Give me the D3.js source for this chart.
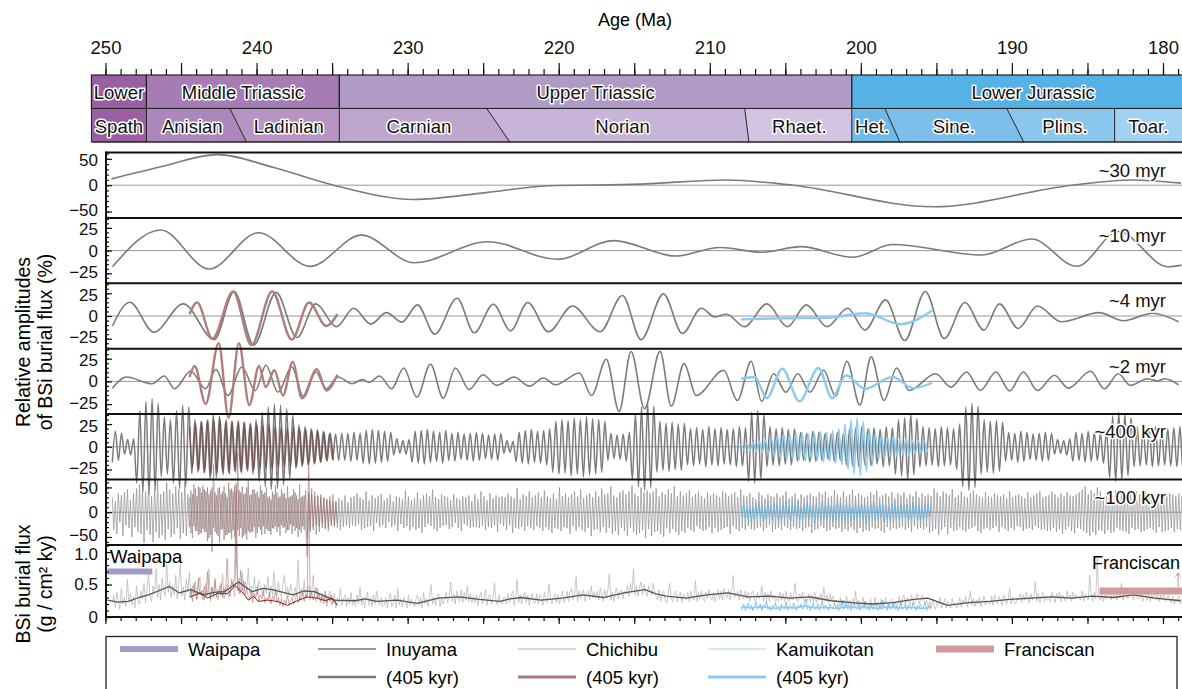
<!DOCTYPE html>
<html lang="en">
<head>
<meta charset="UTF-8">
<title>BSi burial flux cycles</title>
<script src="https://cdn.jsdelivr.net/npm/d3@7"></script>
<style>
  body { margin: 0; background: #fff; }
  svg { display: block; font-family: "Liberation Sans", Arial, sans-serif; }
  .halo { paint-order: stroke; stroke: #fff; stroke-width: 3px; stroke-linejoin: round; }
</style>
</head>
<body>
<svg id="chart" width="1182" height="689"></svg>
<script>
// ---- timescale ----
var seriesNames = ["Lower", "Middle Triassic", "Upper Triassic", "Lower Jurassic"];
var seriesBounds = [[250.93, 247.29], [247.29, 234.52], [234.52, 200.6], [200.6, 176.6]];
var stageNames = ["Spath", "Anisian", "Ladinian", "Carnian", "Norian", "Rhaet.", "Het.", "Sine.", "Plins.", "Toar."];
// stage boundaries: [age at top edge, age at bottom edge]
var stageCuts = [[250.93, 250.93], [247.29, 247.29], [241.77, 240.67], [234.52, 234.52], [224.76, 223.24],
  [207.69, 207.41], [200.6, 200.6], [198.41, 197.42], [190.34, 189.22], [183.2, 183.2], [176.6, 176.6]];

// ---- ~30 myr, ~10 myr, ~4 myr, ~2 myr filtered curves (age Ma, %) ----
var inu30 = [[249.6, 12], [246.2, 36], [242.6, 58], [238.8, 33], [234.9, 0], [229.6, -27], [224.8, -14], [220.7, -1],
  [214.6, 2], [208.9, 10], [204.5, 0], [195.2, -41], [186.0, 0], [182.1, 10], [178.8, 4]];
var inu10 = [[249.54, -17.8], [246.34, 22.7], [243.15, -20.3], [239.88, 19.7], [236.46, -17.4], [233.07, 17],
  [229.58, -13.3], [224.67, 9.7], [220.11, -9.6], [216.35, 11], [212.27, -6], [209.33, 3.4], [206.57, -1.8],
  [203.97, 4.4], [200.53, -7.4], [197.91, 6.7], [192.0, -4.8], [188.69, 12.7], [185.71, -17.3], [182.96, 21],
  [179.66, -17.8], [178.77, -16]];
var inu4 = [[249.54, -11], [248.39, 15.2], [246.8, -17.8], [244.85, 13.3], [242.8, -26], [241.48, 27], [240.19, -32],
  [238.7, 26], [237.33, -23.7], [236.08, 13.3], [234.71, -11.8], [233.57, 8.5], [232.43, -8.9], [231.4, 3.7],
  [230.38, -6.7], [229.35, 12.2], [228.21, -20], [226.73, 19.6], [225.59, -18.5], [224.33, 13], [223.19, -16.3],
  [222.05, 14.8], [220.68, -17.4], [219.09, 11], [217.26, -17.4], [215.78, 22.6], [214.55, -26], [213.07, 24.4],
  [211.81, -19.3], [210.56, 8.5], [209.66, -1], [208.87, 2], [207.71, -11.8], [206.22, 13.3], [204.86, -11.8],
  [203.61, 12.2], [202.24, -11.8], [200.87, 8.5], [199.73, -15.5], [198.36, 17.8], [197.1, -27], [195.73, 27],
  [194.48, -24.8], [193.11, 14.8], [191.86, -15.5], [190.83, 13.3], [189.58, -13.7], [188.32, 11], [186.73, -6.3],
  [184.22, 3.7], [182.62, -5.2], [180.69, 3], [178.97, -6.3]];
var chi4 = [[244.44, 2], [243.94, 15], [242.92, -25], [241.55, 27], [240.34, -32], [238.97, 27], [237.67, -26],
  [236.53, 14.8], [235.39, -11], [234.64, 2]];
var kam4 = [[207.94, -3.7], [205.1, -2.5], [202.25, -2], [199.74, 3], [197.35, -9], [195.28, 6]];
var inu2 = [[249.54, -7.4], [248.62, 4.8], [246.91, -2.6], [246.11, 5.9], [245.43, -8.1], [244.36, 11.1], [243.37, -8.1],
  [242.69, 13.3], [241.89, -15.5], [240.98, 15.9], [240.08, -10], [239.38, 17.8], [238.58, -11.9], [237.67, 15.9],
  [236.88, -17.4], [236.08, 10.4], [235.39, -8.1], [234.6, 4.8], [233.68, -2.6], [233.0, 1.9], [232.54, -1],
  [231.86, 5.9], [231.06, -8.1], [230.26, 14.8], [229.39, -17.4], [228.49, 18.9], [227.64, -18.5], [226.84, 14.8],
  [225.93, -8.9], [225.01, 7.4], [224.1, -4.4], [222.96, 4.8], [221.94, -5.2], [221.02, 3.7], [220.22, -3.7],
  [218.63, 9.3], [217.83, -15.5], [216.85, 24.4], [216.0, -33], [215.21, 33], [214.32, -30], [213.29, 33],
  [212.55, -27.4], [211.7, 19.6], [210.9, -15.5], [209.08, 12.2], [208.17, -21], [207.26, 22], [206.57, -22],
  [205.77, 8.5], [204.97, -11.9], [204.17, 8.5], [203.37, -11.9], [202.46, 12.2], [201.67, -16.3], [200.92, 22],
  [200.07, -26], [199.32, 27], [198.47, -21], [197.63, 14.8], [196.81, -10], [195.05, 8.5], [194.03, -6.3],
  [193.0, 10.4], [192.09, -10], [191.06, 10.4], [190.15, -10.4], [189.24, 10.4], [188.32, -10], [187.18, 6.7],
  [186.27, -7.4], [184.79, 11.1], [183.88, -8.1], [182.96, 8.5], [182.16, -4.4], [181.02, 3], [180.36, 0.5],
  [179.89, 3], [178.97, -3.7]];
var chi2 = [[244.44, 4.8], [244.1, 17], [243.37, -24.8], [242.51, 42], [241.85, -40], [241.17, 42], [240.48, -26],
  [239.84, 17], [239.39, -6.3], [238.82, 12.2], [238.25, -15.5], [237.61, 21.5], [237.0, -18.5], [236.01, 13.3],
  [235.39, -10], [234.65, 7.4]];
var kam2 = [[207.94, 3], [207.02, 4.8], [206.22, -18.5], [205.2, 14], [204.06, -22], [202.81, 14.8], [201.9, -18.5],
  [200.99, 6.7], [199.74, -8.1], [197.91, 4.8], [196.54, -7.4], [195.28, -1.5]];

// ---- ~400 kyr: amplitude (%) of each 405-kyr cycle, oldest first ----
var cycle405 = 0.405;
var inu400Start = 249.55;
var inu400Amp = [17, 15, 8, 9, 40, 50, 53, 48, 33, 30, 40, 46, 44, 30, 28, 29, 36, 34, 27, 28, 26, 27, 25, 30,
  38, 44, 47, 46, 42, 35, 24, 22, 20, 19, 17, 15, 14, 15, 15, 16, 15, 18, 19, 18, 17, 16, 9, 7, 8,
  17, 18, 19, 17, 16, 18, 15, 16, 14, 15, 16, 15, 13, 14, 15, 7, 6, 16, 18, 19, 17, 18, 20, 28, 30, 29,
  32, 30, 33, 31, 30, 28, 15, 13, 14, 16, 36, 44, 48, 45, 28, 26, 27, 25, 26,
  20, 21, 19, 22, 20, 21, 19, 20, 22, 21, 38, 40, 36, 22, 20, 21, 19, 20, 16, 15, 17, 16, 15, 14, 16, 15,
  20, 21, 22, 20, 21, 19, 22, 21, 30, 32, 36, 31, 22, 21, 20, 22, 21, 20, 25, 44, 48, 45, 30, 28, 29, 27,
  16, 15, 17, 16, 14, 15, 16, 15, 8, 7, 9, 16, 15, 17, 16, 15, 18, 34, 38, 36, 32,
  22, 21, 20, 22, 21, 20, 21, 22, 26, 25];
var chi400Start = 244.44;
var chi400Amp = [22, 26, 28, 30, 29, 31, 30, 28, 29, 27, 26, 25, 24, 25, 23, 22, 21, 22, 20, 19, 18, 17, 16, 15];
var kam400Start = 207.94;
var kam400Amp = [3, 4, 5, 6, 8, 10, 12, 14, 13, 15, 16, 14, 15, 17, 16, 18, 20, 25, 30, 32, 28, 20, 14, 12, 10, 11, 9, 10, 8, 7, 6];

// ---- ~100 kyr: extremes every 0.1 Ma (%) ----
var step100 = 0.1;
var inu100Start = 249.55;
var inu100 = [
  30,-36,22,-44,38,-20,34,-48,40,-26,46,-32,24,-50,38,-30,48,-40,56,-44,
  50,-62,42,-36,54,-46,32,-60,48,-40,64,-52,36,-46,42,-56,60,-34,46,-50,
  38,-44,52,-32,46,-54,40,-42,62,-48,36,-30,44,-52,56,-38,32,-46,50,-42,
  54,-40,42,-58,36,-46,50,-32,40,-44,48,-62,36,-34,52,-46,30,-42,46,-54,
  42,-50,58,-36,44,-32,52,-48,38,-56,64,-42,36,-40,46,-52,42,-30,54,-46,
  36,-44,50,-38,32,-46,42,-34,54,-40,30,-48,46,-32,38,-42,52,-36,32,-44,
  46,-38,34,-50,56,-42,32,-36,44,-52,40,-30,48,-36,42,-46,32,-40,36,-32,
  30,-34,26,-38,32,-24,36,-30,22,-32,28,-36,24,-30,34,-27,20,-32,30,-26,
  32,-28,38,-24,30,-36,26,-32,42,-30,24,-28,34,-38,28,-22,32,-30,36,-26,
  24,-32,28,-20,36,-30,22,-26,32,-38,30,-24,26,-32,44,-28,32,-36,24,-30,
  28,-36,40,-32,26,-42,34,-30,38,-24,32,-28,46,-34,30,-38,26,-32,36,-28,
  32,-26,30,-34,24,-30,36,-22,28,-32,26,-38,32,-24,30,-28,34,-32,22,-30,
  36,-30,26,-32,42,-28,32,-36,24,-30,38,-32,28,-26,34,-40,30,-24,32,-28,
  30,-36,38,-26,32,-42,28,-32,48,-34,26,-30,36,-38,32,-28,42,-32,30,-36,
  34,-28,40,-32,30,-38,44,-30,32,-36,28,-42,38,-32,26,-34,50,-38,32,-30,
  38,-32,30,-44,36,-28,42,-38,32,-30,46,-36,28,-40,34,-32,38,-48,30,-36,
  42,-34,32,-40,48,-30,36,-42,38,-32,52,-44,34,-38,30,-46,40,-32,44,-38,
  36,-48,42,-32,54,-40,38,-46,32,-42,50,-36,40,-52,44,-34,38,-48,42,-40,
  48,-38,32,-44,40,-50,36,-32,46,-42,38,-34,52,-40,32,-46,42,-38,34,-42,
  38,-32,44,-36,30,-40,36,-28,42,-34,32,-38,28,-36,40,-30,34,-42,38,-32,
  34,-40,30,-36,42,-32,38,-30,32,-44,36,-28,40,-34,30,-38,46,-32,34,-36,
  32,-28,38,-34,30,-36,26,-32,40,-30,34,-38,28,-32,36,-26,32,-40,30,-34,
  38,-32,30,-36,34,-28,42,-32,28,-36,32,-30,38,-34,26,-32,36,-38,30,-32,
  34,-30,38,-42,32,-36,30,-34,40,-28,36,-32,42,-38,30,-36,32,-30,44,-34,
  36,-32,30,-40,42,-34,32,-38,36,-30,46,-36,32,-42,38,-32,34,-40,30,-36,
  32,-38,40,-30,36,-34,44,-32,30,-38,34,-42,38,-30,32,-36,40,-32,28,-34,
  38,-32,34,-30,40,-36,28,-32,36,-40,32,-28,42,-34,30,-32,38,-36,32,-30,
  36,-42,32,-38,48,-34,40,-46,32,-36,42,-30,38,-44,34,-32,46,-38,30,-36,
  34,-30,42,-36,32,-40,30,-34,38,-32,44,-28,36,-38,32,-42,30,-34,40,-32,
  32,-36,30,-32,38,-28,34,-40,32,-30,36,-34,28,-38,42,-32,30,-36,34,-28,
  36,-30,32,-38,28,-34,40,-32,30,-36,34,-28,38,-32,42,-36,30,-34,32,-38,
  34,-38,42,-32,36,-40,30,-34,38,-44,32,-36,40,-30,34,-38,32,-42,36,-32,
  40,-34,46,-38,52,-42,36,-48,44,-40,38,-46,50,-36,42,-38,32,-44,40,-36,
  38,-42,34,-40,44,-32,38,-36,42,-38,32,-40,36,-44,40,-32,38,-36,42,-34,
  36,-40,32,-38,42,-34,38,-32,40,-36,34,-42,38,-30,36,-40,32,-38,34,-36,
  38,-32,36,-40,32,-34,38,-36,32,-38];
var chi100Start = 244.45;
var chi100 = [
  30,-42,36,-28,48,-38,52,-44,40,-34,46,-40,50,-52,44,-80,96,-40,34,-48,
  50,-36,42,-56,38,-46,60,-42,48,-36,54,-110,120,-48,40,-52,36,-44,50,-38,
  34,-40,46,-30,38,-42,30,-36,44,-28,40,-34,30,-38,26,-32,36,-28,40,-30,
  32,-26,38,-30,28,-36,30,-24,34,-28,40,-32,26,-36,30,-28,34,-30,-90,100,
  -40,36,-30,32,-26,34,-28,30,-24,28,-32,26,-30,24,-28,22,-26,20,-22];
var kam100Start = 207.95;
var kam100 = [
  14,-10,18,-12,8,-16,12,-20,10,-14,16,-8,20,-12,14,-18,10,-14,22,-10,
  12,-16,18,-10,14,-20,8,-12,16,-14,20,-10,12,-18,14,-8,16,-12,22,-16,
  10,-14,18,-12,20,-16,12,-10,14,-22,16,-12,10,-18,20,-14,12,-16,18,-10,
  14,-20,12,-16,22,-10,18,-14,12,-20,16,-12,14,-18,10,-16,20,-12,14,-10,
  18,-14,16,-22,12,-18,14,-10,20,-16,12,-14,18,-10,16,-20,12,-14,10,-18,
  16,-12,20,-14,10,-16,18,-12,14,-10,16,-18,12,-14,20,-10,14,-16,12,-18,
  10,-14,16,-12,18,-10,12];

// ---- BSi burial flux, raw samples every 0.1 Ma (x0.01 g/cm2/ky) ----
var inuRawStart = 249.55;
var inuRaw = [
  22,34,15,38,24,12,44,20,30,16,58,24,36,18,32,14,48,26,20,40,
  28,52,22,44,66,30,24,48,36,74,30,50,26,60,40,32,82,38,54,30,
  48,34,64,28,52,84,32,46,26,58,38,70,30,48,34,56,26,50,62,32,
  42,26,52,32,74,24,46,30,60,34,26,48,32,66,28,44,50,30,36,54,
  52,32,94,40,60,36,68,34,54,42,76,36,48,32,62,40,34,56,46,38,
  32,50,36,62,30,48,34,70,40,32,54,38,30,52,64,34,46,32,50,38,
  30,46,34,88,26,44,32,56,28,40,48,26,38,64,30,24,44,28,22,36,
  20,34,16,30,40,18,28,36,14,30,22,44,18,28,34,16,30,20,38,18,
  28,16,34,20,46,18,30,14,28,38,18,30,16,34,20,40,24,18,30,16,
  18,30,14,28,36,16,22,34,14,44,18,28,16,30,22,14,34,18,28,20,
  16,28,34,18,30,14,38,20,28,16,32,50,20,30,18,28,36,16,30,20,
  26,38,22,32,54,24,36,20,40,28,24,42,22,38,26,48,24,36,22,32,
  22,34,18,30,38,20,28,42,18,30,34,20,28,52,24,18,34,22,20,30,
  30,20,36,22,32,40,18,30,58,22,34,20,30,38,22,34,18,30,36,22,
  22,36,20,34,30,18,38,26,22,50,32,20,30,36,22,34,20,30,40,22,
  28,40,24,38,44,26,36,62,24,40,28,38,42,24,36,40,26,48,30,38,
  30,40,26,44,36,24,42,30,40,66,26,38,24,40,44,28,38,42,28,40,
  36,48,32,52,38,74,34,48,32,46,54,34,50,38,32,48,40,34,52,38,
  32,26,42,24,36,40,26,22,38,52,28,24,36,40,24,32,38,22,36,28,
  28,38,24,40,30,26,56,24,38,28,40,30,24,38,28,42,30,26,38,24,
  32,42,28,40,26,44,32,30,42,26,40,64,30,36,40,26,42,32,28,40,
  28,38,24,36,40,26,24,38,28,34,48,24,38,26,36,24,40,28,34,24,
  28,24,38,26,36,24,40,28,24,38,26,34,52,26,24,36,28,38,24,28,
  24,36,22,34,24,38,22,32,26,36,22,46,24,34,22,36,26,32,22,26,
  20,16,30,18,26,16,32,18,26,16,28,18,40,18,26,16,20,30,16,24,
  18,16,28,14,20,30,16,22,14,28,16,20,30,16,14,24,28,16,22,18,
  20,32,18,28,34,20,30,24,18,34,24,20,30,36,20,26,34,28,20,26,
  16,24,14,28,18,12,24,18,30,14,20,28,14,24,18,14,28,18,22,14,
  18,30,16,26,20,32,16,26,40,18,28,16,26,20,30,16,24,32,18,26,
  24,20,32,18,34,24,20,32,26,18,34,28,20,28,44,20,30,24,20,30,
  26,36,22,34,26,38,30,22,36,26,32,54,24,36,22,32,38,24,32,26,
  28,24,38,30,22,36,28,38,24,34,30,24,40,28,34,24,38,28,34,30,
  30,26,40,24,36,30,26,64,32,24,38,28,90,30,26,38,24,34,28,40,
  34,26,40,30,42,26,36,30,52,26,36,40,28,32,42,34,26,40,30,28,
  28,38,24,34,40,26,36,24,34,28,40,26,36,24,34,28,38,24,28,34,
  26,22,32,20,28,24,32,20,28,24];
var chiRawStart = 244.45;
var chiRaw = [
  30,44,24,52,36,28,60,34,40,26,48,30,70,38,28,46,34,56,30,42,
  38,52,30,44,36,90,40,32,58,46,64,196,48,36,72,40,56,34,46,30,
  26,40,22,36,30,48,24,34,28,42,22,30,26,38,20,32,26,44,22,30,
  18,28,16,26,20,34,18,24,30,20,26,36,22,30,28,40,24,34,30,192,
  30,38,26,34,46,28,36,24,32,26,40,22,30,24,34,20,28,22,18];
var kamRawStart = 207.95;
var kamRaw = [
  16,12,20,10,14,22,12,18,10,16,24,12,14,20,10,18,14,26,12,16,
  10,18,14,22,12,16,10,20,14,12,24,10,16,18,12,22,14,10,18,14,
  20,12,16,28,12,18,10,16,22,12,14,20,10,16,24,12,18,14,10,20,
  16,12,22,14,18,10,16,26,12,14,20,12,18,10,16,22,14,12,20,10,
  18,14,24,12,16,10,20,14,12,22,16,10,18,12,26,14,16,10,20,12,
  14,22,12,18,10,16,24,12,14,20,10,18,14,12,22,16,10,18,14,20,
  12,16,22,10,14,18,12];

// ---- BSi burial flux, 405-kyr smoothed (age Ma, g/cm2/ky) ----
var inuSmooth = [[249.87, 0.26], [249.2, 0.23], [248.48, 0.24], [247.8, 0.3], [247.16, 0.34], [246.5, 0.4], [245.77, 0.47],
  [245.11, 0.37], [244.38, 0.42], [243.52, 0.34], [242.8, 0.38], [242.13, 0.39], [241.2, 0.54], [240.28, 0.39],
  [239.6, 0.44], [238.96, 0.42], [237.57, 0.34], [236.9, 0.4], [236.18, 0.39], [234.85, 0.26], [233.47, 0.25],
  [232.8, 0.28], [232.08, 0.24], [230.69, 0.26], [229.37, 0.21], [228.7, 0.25], [227.98, 0.29], [226.59, 0.31],
  [225.26, 0.27], [223.88, 0.24], [223.2, 0.28], [222.49, 0.3], [221.16, 0.26], [219.78, 0.29], [218.39, 0.34],
  [217.06, 0.3], [215.67, 0.37], [214.29, 0.42], [213.6, 0.36], [212.9, 0.32], [211.57, 0.29], [210.19, 0.34],
  [208.8, 0.37], [207.47, 0.31], [206.08, 0.32], [204.7, 0.29], [203.37, 0.31], [201.98, 0.25], [200.6, 0.22],
  [199.27, 0.2], [197.88, 0.22], [196.49, 0.27], [195.57, 0.29], [194.25, 0.18], [192.86, 0.22], [191.47, 0.24],
  [190.15, 0.27], [188.76, 0.29], [187.37, 0.31], [186.04, 0.29], [184.66, 0.32], [183.27, 0.3], [181.94, 0.34],
  [180.56, 0.29], [178.84, 0.25]];
var chiSmooth = [[244.38, 0.31], [243.72, 0.37], [243.25, 0.29], [242.59, 0.36], [241.93, 0.36], [241.4, 0.48],
  [240.87, 0.36], [240.54, 0.26], [240.21, 0.32], [239.88, 0.24], [239.29, 0.26], [238.62, 0.24], [237.96, 0.18],
  [237.3, 0.25], [236.64, 0.31], [235.98, 0.29], [235.45, 0.25], [234.99, 0.29], [234.66, 0.18]];
var kamSmooth = [[207.9, 0.16], [207.2, 0.14], [206.5, 0.16], [205.8, 0.13], [205.1, 0.15], [204.4, 0.14], [203.7, 0.17],
  [203.0, 0.14], [202.3, 0.15], [201.6, 0.13], [200.9, 0.16], [200.2, 0.14], [199.5, 0.15], [198.8, 0.13],
  [198.1, 0.16], [197.4, 0.14], [196.7, 0.15], [196.0, 0.13], [195.3, 0.15]];
// other sections: [from age, to age, flux]
var waipapaBar = [249.87, 246.9, 0.70];
var franciscanBar = [184.2, 177.5, 0.40];

// ---- tick labels ----
var ageLabels = [250, 240, 230, 220, 210, 200, 190, 180];
var panelLabels = ["~30 myr", "~10 myr", "~4 myr", "~2 myr", "~400 kyr", "~100 kyr"];

// ---------------- drawing ----------------
var svg = d3.select("#chart");
var x = d3.scaleLinear().domain([250, 180]).range([105.5, 1163]);
var plotL = 106, plotR = 1182;
var panelTop = 152.5, panelH = 65.4, fluxBottom = 617;

var seriesColors = ["#9A5FA3", "#A57DB4", "#B29AC7", "#56B1E5"];
var stageColors = ["#9A5FA3", "#AB87BC", "#B894C5", "#BEA6CE", "#C8B4D8", "#D4C3E1", "#6DB9E7", "#7CBFEA", "#8BC7EC", "#A2D2F1"];
var tsTop = 75, tsMid = 108.5, tsBot = 142;

// timescale row 1
seriesBounds.forEach(function(b, i) {
  svg.append("rect").attr("x", x(b[0])).attr("y", tsTop).attr("width", x(b[1]) - x(b[0])).attr("height", tsMid - tsTop)
    .attr("fill", seriesColors[i]).attr("stroke", "#222").attr("stroke-width", 1.2);
  svg.append("text").attr("class", "halo").attr("x", (x(b[0]) + x(b[1])) / 2).attr("y", tsTop + 24)
    .attr("text-anchor", "middle").attr("font-size", 18.5).attr("fill", "#111").text(seriesNames[i]);
});
// timescale row 2
stageNames.forEach(function(name, i) {
  var a = stageCuts[i], b = stageCuts[i + 1];
  var pts = [[x(a[0]), tsMid], [x(b[0]), tsMid], [x(b[1]), tsBot], [x(a[1]), tsBot]];
  svg.append("polygon").attr("points", pts.join(" ")).attr("fill", stageColors[i]);
  var left = (x(a[0]) + x(a[1])) / 2, right = Math.min((x(b[0]) + x(b[1])) / 2, plotR);
  svg.append("text").attr("class", "halo").attr("x", (left + right) / 2).attr("y", tsMid + 24)
    .attr("text-anchor", "middle").attr("font-size", 18.5).attr("fill", "#111").text(name);
});
stageCuts.forEach(function(c) {
  svg.append("line").attr("x1", x(c[0])).attr("y1", tsMid).attr("x2", x(c[1])).attr("y2", tsBot)
    .attr("stroke", "#222").attr("stroke-width", 1);
});
svg.append("line").attr("x1", x(250.93)).attr("x2", plotR).attr("y1", tsBot).attr("y2", tsBot)
  .attr("stroke", "#222").attr("stroke-width", 1.5);
svg.append("line").attr("x1", x(250.93)).attr("x2", plotR).attr("y1", tsMid).attr("y2", tsMid)
  .attr("stroke", "#222").attr("stroke-width", 1.2);

// top age axis
function styleAxis(g) {
  g.select(".domain").remove();
  g.attr("font-family", null).attr("font-size", 18.5);
  g.selectAll("line").attr("stroke", "#111").attr("stroke-width", 1.2);
  g.selectAll("text").attr("fill", "#111");
}
svg.append("g").attr("transform", "translate(0," + tsTop + ")")
  .call(d3.axisTop(x).tickValues(d3.range(179, 251)).tickSize(6).tickFormat("")).call(styleAxis);
svg.append("g").attr("transform", "translate(0," + tsTop + ")")
  .call(d3.axisTop(x).tickValues(d3.range(180, 251, 5)).tickSize(12).tickPadding(9)
    .tickFormat(function(d) { return ageLabels.indexOf(d) >= 0 ? d : ""; })).call(styleAxis);
svg.append("text").attr("x", 635).attr("y", 26).attr("text-anchor", "middle").attr("font-size", 18).text("Age (Ma)");

// panels
var panelDom = [62, 36, 36, 36, 36, 66];
var panelMajor = [[-50, 0, 50], [-25, 0, 25], [-25, 0, 25], [-25, 0, 25], [-25, 0, 25], [-50, 0, 50]];
var panelMinor = [10, 5, 5, 5, 5, 10];
var ys = panelDom.map(function(d, i) {
  var top = panelTop + i * panelH;
  return d3.scaleLinear().domain([-d, d]).range([top + panelH, top]);
});
var yFlux = d3.scaleLinear().domain([0, 1.11]).range([fluxBottom, panelTop + 6 * panelH]);

ys.forEach(function(y) {
  svg.append("line").attr("x1", plotL).attr("x2", plotR).attr("y1", y(0)).attr("y2", y(0))
    .attr("stroke", "#999").attr("stroke-width", 1);
});

function draw(y, pts, color, width, curve, opacity) {
  svg.append("path").datum(pts).attr("fill", "none").attr("stroke", color).attr("stroke-width", width)
    .attr("stroke-opacity", opacity == null ? 1 : opacity).attr("stroke-linejoin", "round")
    .attr("d", d3.line().x(function(d) { return x(d[0]); }).y(function(d) { return y(d[1]); })
      .curve(curve || d3.curveMonotoneX));
}
function cycles(start, amps, sign) {
  var pts = [];
  amps.forEach(function(a, i) {
    pts.push([start - i * cycle405, sign * a]);
    pts.push([start - i * cycle405 - cycle405 / 2, -sign * a]);
  });
  return pts;
}
function stepped(start, vals, k) {
  return vals.map(function(v, i) { return [start - i * step100, v * k]; });
}

var gray = "#7b7b7b", rose = "#b07d7d", sky = "#8ccbee";
draw(ys[0], inu30, gray, 1.6);
draw(ys[1], inu10, gray, 1.6);
draw(ys[2], inu4, gray, 1.6);
draw(ys[2], chi4, rose, 2.4);
draw(ys[2], kam4, sky, 2.4);
draw(ys[3], inu2, gray, 1.6);
draw(ys[3], chi2, rose, 2.4);
draw(ys[3], kam2, sky, 2.4);
draw(ys[4], cycles(inu400Start, inu400Amp, -1), gray, 1.5);
draw(ys[4], cycles(chi400Start, chi400Amp, 1), "#6e4848", 1.4, null, 0.85);
draw(ys[4], cycles(kam400Start, kam400Amp, 1), sky, 1.5);
draw(ys[5], stepped(inu100Start, inu100, 1), "#8e8e8e", 0.7, d3.curveLinear);
draw(ys[5], stepped(chi100Start, chi100, 1), "#9a6464", 0.8, d3.curveLinear, 0.7);
draw(ys[5], stepped(kam100Start, kam100, 1), "#62b3e4", 0.8, d3.curveLinear);
draw(yFlux, stepped(inuRawStart, inuRaw, 0.01), "#b3b3b3", 0.7, d3.curveLinear);
draw(yFlux, stepped(chiRawStart, chiRaw, 0.01), "#b27272", 0.8, d3.curveLinear, 0.75);
draw(yFlux, stepped(kamRawStart, kamRaw, 0.01), "#6ab8e6", 0.8, d3.curveLinear);
draw(yFlux, inuSmooth, "#555555", 1.3, d3.curveLinear);
draw(yFlux, chiSmooth, "#8b1a1a", 1, d3.curveLinear);
draw(yFlux, kamSmooth, "#8ccbee", 1.6, d3.curveLinear);

// Waipapa and Franciscan bars
svg.append("line").attr("x1", x(waipapaBar[0])).attr("x2", x(waipapaBar[1]))
  .attr("y1", yFlux(waipapaBar[2])).attr("y2", yFlux(waipapaBar[2])).attr("stroke", "#a59bcb").attr("stroke-width", 6);
svg.append("line").attr("x1", x(franciscanBar[0])).attr("x2", x(franciscanBar[1]))
  .attr("y1", yFlux(franciscanBar[2])).attr("y2", yFlux(franciscanBar[2])).attr("stroke", "#d39a9e").attr("stroke-width", 7);
svg.append("line").attr("x1", x(179.0)).attr("x2", x(179.0)).attr("y1", yFlux(franciscanBar[2]) - 4).attr("y2", yFlux(0.68))
  .attr("stroke", "#d08a90").attr("stroke-width", 1);
svg.append("path").attr("d", "M" + (x(179.0) - 2.5) + "," + (yFlux(0.68) + 4) + "L" + x(179.0) + "," + yFlux(0.68) +
  "L" + (x(179.0) + 2.5) + "," + (yFlux(0.68) + 4)).attr("fill", "none").attr("stroke", "#d08a90").attr("stroke-width", 1);
svg.append("text").attr("x", 110).attr("y", 563).attr("font-size", 18.5).text("Waipapa");
svg.append("text").attr("x", 1092).attr("y", 569).attr("font-size", 18).text("Franciscan");

// panel borders and left axis line
for (var i = 0; i <= 6; i++) {
  var yy = panelTop + i * panelH;
  svg.append("line").attr("x1", plotL).attr("x2", plotR).attr("y1", yy).attr("y2", yy).attr("stroke", "#111").attr("stroke-width", 2);
}
svg.append("line").attr("x1", plotL).attr("x2", plotR).attr("y1", fluxBottom).attr("y2", fluxBottom).attr("stroke", "#111").attr("stroke-width", 2);
svg.append("line").attr("x1", plotL).attr("x2", plotL).attr("y1", panelTop - 1).attr("y2", fluxBottom + 1).attr("stroke", "#111").attr("stroke-width", 2);

// y axes; edge labels nudged (px) so stacked panels' labels stay apart
function yAxis(y, major, minor, fmt, topShift, botShift) {
  var g = svg.append("g").attr("transform", "translate(" + plotL + ",0)");
  g.append("g").call(d3.axisLeft(y).tickValues(minor).tickSize(-3).tickFormat("")).call(styleAxis);
  var m = g.append("g").call(d3.axisLeft(y).tickValues(major).tickSizeInner(-6).tickSizeOuter(0).tickPadding(8).tickFormat(fmt)).call(styleAxis);
  var lo = d3.min(major), hi = d3.max(major);
  m.attr("font-size", 17);
  m.selectAll(".tick text").attr("y", function(d) { return d === hi ? topShift : d === lo && lo < 0 ? botShift : 0; });
}
var topShifts = [1, 1.5, 1.5, 1.5, 1.5, 1];
var botShifts = [-1.5, -1.5, -1.5, -1.5, -1.5, -2];
ys.forEach(function(y, i) {
  var d = panelDom[i], s = panelMinor[i];
  var minor = d3.range(-Math.floor(d / s) * s, d + 0.001, s);
  yAxis(y, panelMajor[i], minor, d3.format("d"), topShifts[i], botShifts[i]);
});
yAxis(yFlux, [0, 0.5, 1.0], d3.range(0, 1.11, 0.1), function(d) { return d === 0 ? "0" : d3.format(".1f")(d); }, 2.5, 0);

// bottom axis
svg.append("g").attr("transform", "translate(0," + fluxBottom + ")")
  .call(d3.axisBottom(x).tickValues(d3.range(179, 251)).tickSize(4).tickFormat("")).call(styleAxis);
svg.append("g").attr("transform", "translate(0," + fluxBottom + ")")
  .call(d3.axisBottom(x).tickValues(d3.range(180, 251, 5)).tickSize(7).tickFormat("")).call(styleAxis);

// panel labels on the right
panelLabels.forEach(function(t, i) {
  svg.append("text").attr("class", "halo").attr("x", 1166).attr("y", panelTop + i * panelH + 24)
    .attr("text-anchor", "end").attr("font-size", 18.5).attr("fill", "#111").text(t);
});

// y titles
function vTitle(tx, ty, t) {
  svg.append("text").attr("transform", "translate(" + tx + "," + ty + ") rotate(-90)")
    .attr("text-anchor", "middle").attr("font-size", 19.5).text(t);
}
vTitle(30, 342, "Relative amplitudes");
vTitle(52, 342, "of BSi burial flux  (%)");
vTitle(30, 584, "BSi burial flux");
vTitle(52, 584, "(g / cm\u00B2 ky)");

// legend
svg.append("rect").attr("x", 106).attr("y", 636.5).attr("width", 1071).attr("height", 80)
  .attr("fill", "#fff").attr("stroke", "#222").attr("stroke-width", 1.3);
var legendText = ["Waipapa", "Inuyama", "(405 kyr)", "Chichibu", "(405 kyr)", "Kamuikotan", "(405 kyr)", "Franciscan"];
var legendX = [120, 318, 318, 518, 518, 708, 708, 936];
var legendRow = [0, 0, 1, 0, 1, 0, 1, 0];
var legendColor = ["#a59bcb", "#333333", "#777777", "#c4a0a0", "#a37b7b", "#a5d5f0", "#8ccbee", "#d39a9e"];
var legendWidth = [6, 1, 2.5, 1, 3, 1, 3, 7];
legendText.forEach(function(t, i) {
  var ly = 649 + legendRow[i] * 28;
  svg.append("line").attr("x1", legendX[i]).attr("x2", legendX[i] + 58).attr("y1", ly).attr("y2", ly)
    .attr("stroke", legendColor[i]).attr("stroke-width", legendWidth[i]);
  svg.append("text").attr("x", legendX[i] + 68).attr("y", ly + 6.5).attr("font-size", 18.5).text(t);
});
</script>
</body>
</html>
